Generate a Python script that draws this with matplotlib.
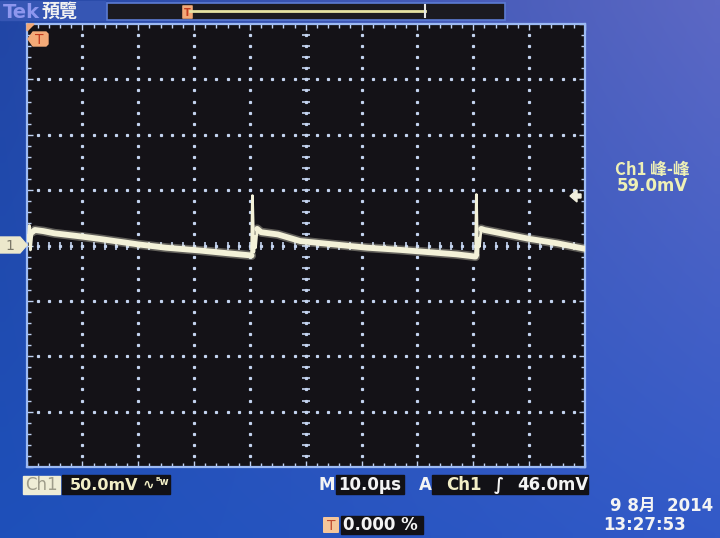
import numpy as np
import matplotlib.pyplot as plt
from matplotlib.patches import Rectangle, Polygon, FancyBboxPatch

# Ch1 trace (time in us, voltage in mV)
time_us = [0, 0.3, 0.5, 0.7, 1.0, 1.5, 3, 5, 10, 13, 20, 25, 31, 36, 40.3,
           40.45, 40.55, 40.7, 40.85, 41.0, 41.3, 42, 45, 49, 55, 61, 67, 72, 77, 80.4,
           80.55, 80.65, 80.8, 80.95, 81.1, 81.4, 82, 85, 90, 95, 100]
ch1_mv = [9, 4, 18, -4, 12, 14, 13, 11, 8, 6, 1, -2, -4.5, -7, -9,
          45, 25, -6, 8, -2, 15, 12, 10, 4, 1, -2, -4, -6, -8, -10,
          46, 20, -9, 6, -1, 15, 14, 11, 6, 2, -3]
# slow decaying parts of the trace (index ranges), drawn thicker than the spikes
body = [(4, 15), (20, 30), (35, 41)]

volts_div = 50.0   # mV/div
time_div = 10.0    # us/div
trig_mv = 46.0
pk_pk = "59.0mV"

W, H = 720, 538
fig = plt.figure(figsize=(7.2, 5.38), dpi=100)

# background: blue screen with some light falloff
bg = fig.add_axes([0, 0, 1, 1], zorder=0)
bg.set_xlim(0, W)
bg.set_ylim(H, 0)
bg.axis('off')
tl = np.array([34, 70, 165]); tr = np.array([92, 104, 196])
bl = np.array([30, 80, 186]); br = np.array([50, 90, 200])
u = np.linspace(0, 1, 72)[None, :, None]
v = np.linspace(0, 1, 54)[:, None, None]
grad = (tl * (1 - u) * (1 - v) + tr * u * (1 - v) + bl * (1 - u) * v + br * u * v) / 255
bg.imshow(grad, extent=[0, W, H, 0], aspect='auto', interpolation='bilinear')

# scope graticule
x0, x1, y0, y1 = 26.5, 585, 24, 467
ax = fig.add_axes([x0 / W, 1 - y1 / H, (x1 - x0) / W, (y1 - y0) / H], zorder=1)
ax.set_facecolor('#141217')
ax.set_xlim(0, 10 * time_div)
ax.set_ylim(-4 * volts_div, 4 * volts_div)
ax.set_xticks(np.arange(0, 101, 10))
ax.set_xticks(np.arange(0, 101, 2), minor=True)
ax.set_yticks(np.arange(-200, 201, 50))
ax.set_yticks(np.arange(-200, 201, 10), minor=True)
ax.tick_params(which='both', direction='in', top=True, right=True, labelbottom=False,
               labelleft=False, color='#c0d2f2', width=1)
ax.tick_params(which='major', length=4)
ax.tick_params(which='minor', length=3)
for s in ax.spines.values():
    s.set_color('#9cbaf4')
    s.set_linewidth(1.6)

dot = dict(linestyle='none', marker='s', markersize=1.3, color='#c4d4f0', zorder=1)
for gx in np.arange(10, 100, 10):
    ys = np.arange(-190, 200, 10)
    ax.plot(np.full_like(ys, gx, dtype=float), ys, **dot)
for gy in np.arange(-150, 200, 50):
    xs = np.arange(2, 100, 2)
    ax.plot(xs, np.full_like(xs, gy, dtype=float), **dot)
# centre crosshair with small ticks
ys = np.arange(-190, 200, 10)
ax.plot(np.full_like(ys, 50, dtype=float), ys, linestyle='none', marker='_',
        markersize=6, mew=1.2, color='#c4d4f0', zorder=1)
xs = np.arange(2, 100, 2)
ax.plot(xs, np.zeros_like(xs, dtype=float), linestyle='none', marker='|',
        markersize=6, mew=1.2, color='#c4d4f0', zorder=1)

trace = '#f3f1d8'
ax.plot(time_us, ch1_mv, color=trace, linewidth=2.0, solid_joinstyle='round',
        solid_capstyle='round', zorder=3)
for a, b in body:
    ax.plot(time_us[a:b], ch1_mv[a:b], color=trace, linewidth=6.5, alpha=0.35,
            solid_capstyle='round', zorder=3)
    ax.plot(time_us[a:b], ch1_mv[a:b], color=trace, linewidth=4.2,
            solid_capstyle='round', zorder=3)

# overlay for readouts and markers
fg = fig.add_axes([0, 0, 1, 1], zorder=2)
fg.set_xlim(0, W)
fg.set_ylim(H, 0)
fg.axis('off')
fg.patch.set_alpha(0)

bold = dict(fontweight='bold', va='center', ha='left')
cream = '#f2eec6'

# top bar
fg.add_patch(Rectangle((0, 1), 105, 19, color='#3656b4'))
fg.text(3, 12, 'Tek', color='#8d96ee', fontsize=14, **bold)
fg.text(41, 11.5, '預覽', color='#f2f2f2', fontsize=13,
        family=['Noto Sans CJK TC', 'DejaVu Sans'], **bold)
fg.add_patch(Rectangle((107, 3), 398, 17, facecolor='#1b1a20', edgecolor='#5c7cd4', lw=1.2))
fg.plot([190, 425], [10.5, 10.5], color='#e6e2a2', lw=2)
fg.plot([425, 425], [5, 17], color='#e8e8e8', lw=1.5)
fg.add_patch(FancyBboxPatch((183, 6), 9, 12, boxstyle='round,pad=0.8',
                            facecolor='#f2a877', edgecolor='none'))
fg.text(187.5, 12.5, 'T', color='#c23c20', fontsize=7, ha='center', va='center',
        fontweight='bold')

# trigger position marker in the graticule
fg.add_patch(Polygon([[27, 24], [34, 24], [27, 31]], color='#f2a877'))
fg.add_patch(Polygon([[28, 39], [33, 32], [46, 32], [48, 34], [48, 44], [46, 46], [33, 46]],
                     color='#f4aa78'))
fg.text(39.5, 39.5, 'T', color='#c43a1e', fontsize=10, ha='center', va='center')

# channel 1 ground marker
fg.add_patch(Polygon([[0, 237], [20, 237], [27, 245], [20, 253], [0, 253]], color='#ece8cc'))
fg.text(10, 245.5, '1', color='#7a7868', fontsize=10, ha='center', va='center')

# trigger level arrow on right edge
fg.add_patch(Polygon([[570, 196], [577, 190], [577, 194], [581, 194], [581, 198],
                      [577, 198], [577, 202]], color='#f0eedc'))

# measurement readout
fg.text(652, 169.5, 'Ch1 峰-峰', color='#eef0b6', fontsize=12, ha='center', va='center',
        fontweight='bold', family=['Noto Sans CJK TC', 'DejaVu Sans'])
fg.text(652, 186, pk_pk, color='#eef0b6', fontsize=12, ha='center', va='center',
        fontweight='bold')

# bottom readouts
fg.add_patch(Rectangle((23, 476), 37, 18, color='#efedd6'))
fg.text(41.5, 485, 'Ch1', color='#9e9c8a', fontsize=12, ha='center', va='center')
fg.add_patch(Rectangle((62, 475), 108, 19, color='#121116'))
fg.text(70, 485, '%.1fmV' % volts_div, color=cream, fontsize=11.5, **bold)
fg.text(143, 485, '∿', color=cream, fontsize=10, **bold)
fg.text(156, 482, 'ᴮw', color=cream, fontsize=7, **bold)

fg.text(318, 485, 'M', color='#f4f4f4', fontsize=12, **bold)
fg.add_patch(Rectangle((336, 475), 68, 19, color='#121116'))
fg.text(338, 485, '%.1fµs' % time_div, color='#f4f4f4', fontsize=12, **bold)

fg.text(419, 485, 'A', color='#f4f4f4', fontsize=12, **bold)
fg.add_patch(Rectangle((432, 475), 156, 19, color='#121116'))
fg.text(446, 485, 'Ch1', color=cream, fontsize=12, **bold)
fg.text(494, 485, '∫', color='#f4f4f4', fontsize=12, **bold)
fg.text(517, 485, '%.1fmV' % trig_mv, color='#f4f4f4', fontsize=12, **bold)

fg.add_patch(FancyBboxPatch((324, 518), 14, 14, boxstyle='round,pad=1',
                            facecolor='#f6c69a', edgecolor='none'))
fg.text(331, 525.5, 'T', color='#c04a30', fontsize=10, ha='center', va='center')
fg.add_patch(Rectangle((341, 516), 82, 18, color='#121116'))
fg.text(343, 525.5, '0.000 %', color='#f4f4f4', fontsize=12, **bold)

fg.text(713, 506, '9 8月  2014', color='#f4f4f4', fontsize=12, ha='right', va='center',
        fontweight='bold', family=['DejaVu Sans', 'Noto Sans CJK JP'])
fg.text(603, 525, '13:27:53', color='#f4f4f4', fontsize=12, **bold)

fig.savefig('out.png', dpi=100)
